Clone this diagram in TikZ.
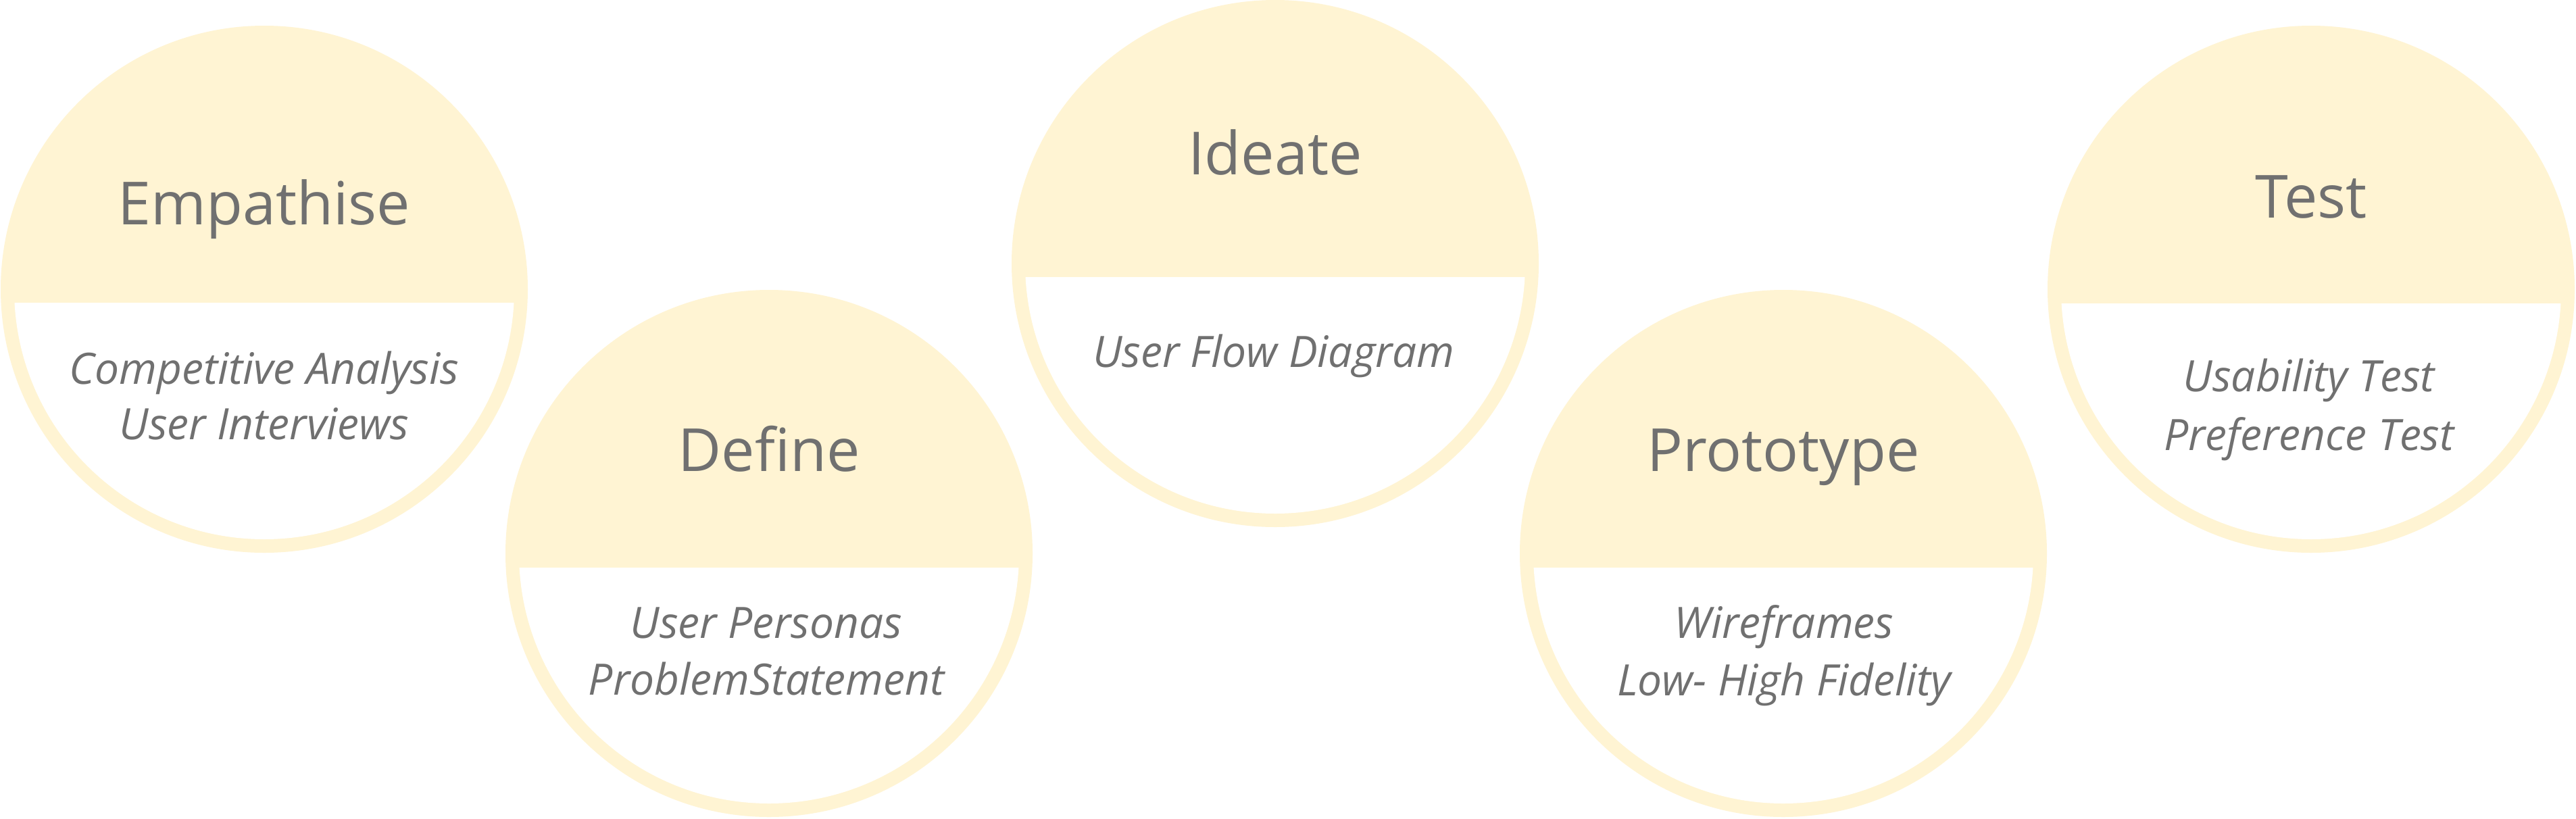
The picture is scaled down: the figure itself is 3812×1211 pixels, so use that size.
\documentclass[tikz,border=0pt]{standalone}
\usepackage{fontspec}
\setmainfont{Open Sans}
\definecolor{yel}{HTML}{FFF4D3}
\definecolor{txt}{HTML}{707070}
\tikzset{
  disc/.style={circle, fill=yel, draw=none, minimum size=780pt, inner sep=0pt},
  ttl/.style={anchor=base, text=txt, inner sep=0pt, font=\fontsize{88}{100}\selectfont},
  itm/.style={anchor=base, text=txt, inner sep=0pt, font=\itshape\fontsize{64}{76}\selectfont},
}
\newcommand\lowerwhite[2]{% node name, split offset below centre
  \begin{scope}
    \clip (#1.center) ++(-400,#2) rectangle ++(800,420);
    \fill[white] (#1.center) circle (370pt);
  \end{scope}}
\begin{document}
\begin{tikzpicture}[x=1pt,y=-1pt]
\useasboundingbox[fill=white] (0,0) rectangle (3812,1211);
% discs
\node[disc] (emp) at (391,428) {};
\node[disc] (def) at (1138,819) {};
\node[disc] (ide) at (1887,390) {};
\node[disc] (pro) at (2639,819) {};
\node[disc] (tes) at (3420,428) {};
\lowerwhite{emp}{20}
\lowerwhite{def}{21}
\lowerwhite{ide}{20}
\lowerwhite{pro}{21}
\lowerwhite{tes}{21}
% titles
\node[ttl] (empT) at (391,332) {Empathise};
\node[ttl] (defT) at (1138,697) {Define};
\node[ttl] (ideT) at (1887,258) {Ideate};
\node[ttl] (proT) at (2639,697) {Prototype};
\node[ttl] (tesT) at (3420,322) {Test};
% items
\node[itm] (emp1) at (391,568) {Competitive Analysis};
\node[itm] (emp2) at (391,650) {User Interviews};
\node[itm] (def1) at (1134,944) {User Personas};
\node[itm] (def2) at (1134,1028) {ProblemStatement};
\node[itm] (ide1) at (1885,543) {User Flow Diagram};
\node[itm] (pro1) at (2640,944) {Wireframes};
\node[itm] (pro2) at (2640,1029) {Low- High Fidelity};
\node[itm] (tes1) at (3417,579) {Usability Test};
\node[itm] (tes2) at (3417,666) {Preference Test};
\end{tikzpicture}
\end{document}
